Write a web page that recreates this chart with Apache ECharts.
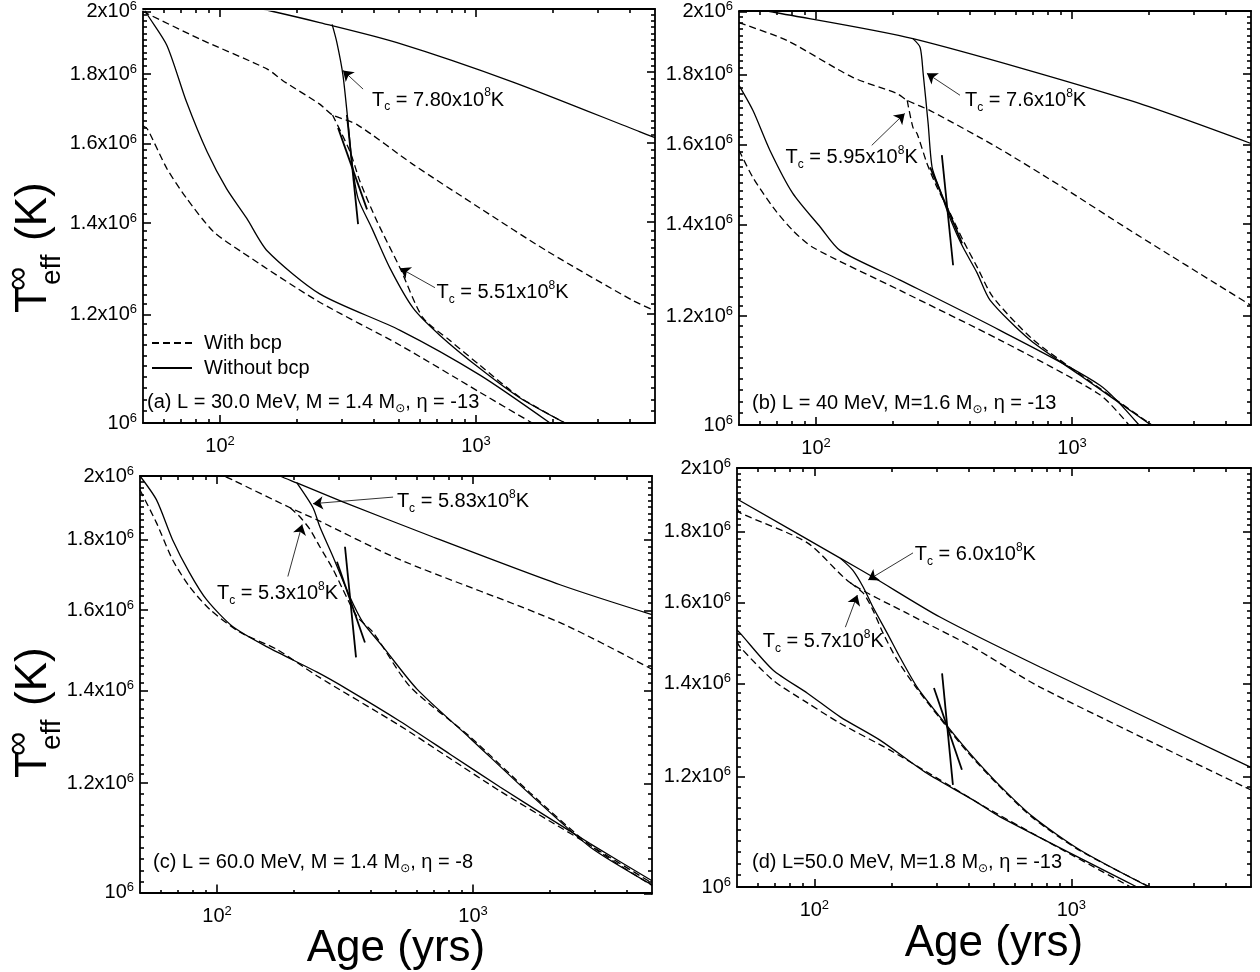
<!DOCTYPE html>
<html>
<head>
<meta charset="utf-8">
<script src="https://cdn.jsdelivr.net/npm/echarts@6/dist/echarts.min.js"></script>
<style>
  html, body { margin: 0; padding: 0; background: #fff; }
  #chart { width: 1260px; height: 972px; }
</style>
</head>
<body>
<div id="chart"></div>
<script>
const FONT = '"Liberation Sans", Arial, "DejaVu Sans", sans-serif';

// ticks
const xMajor = [100, 1000];
const xMinor = [60, 70, 80, 90, 200, 300, 400, 500, 600, 700, 800, 900, 2000, 3000, 4000];
const yMajor = [1.0e6, 1.2e6, 1.4e6, 1.6e6, 1.8e6, 2.0e6];
const yMajorText = ["10", "1.2x10", "1.4x10", "1.6x10", "1.8x10", "2x10"];
const yMinor = [
  1.02e6, 1.04e6, 1.06e6, 1.08e6, 1.10e6, 1.12e6, 1.14e6, 1.16e6, 1.18e6,
  1.22e6, 1.24e6, 1.26e6, 1.28e6, 1.30e6, 1.32e6, 1.34e6, 1.36e6, 1.38e6,
  1.42e6, 1.44e6, 1.46e6, 1.48e6, 1.50e6, 1.52e6, 1.54e6, 1.56e6, 1.58e6,
  1.62e6, 1.64e6, 1.66e6, 1.68e6, 1.70e6, 1.72e6, 1.74e6, 1.76e6, 1.78e6,
  1.82e6, 1.84e6, 1.86e6, 1.88e6, 1.90e6, 1.92e6, 1.94e6, 1.96e6, 1.98e6,
];

// (a) L = 30 MeV, M = 1.4
const aSolidTop = [[100, 2.04e6], [161, 2.0e6], [245, 1.963e6], [491, 1.898e6], [1394, 1.776e6], [4370, 1.633e6], [5000, 1.617e6]];
const aSolidTc = [[274, 1.957e6], [286, 1.898e6], [302, 1.797e6], [316, 1.661e6], [328, 1.548e6], [346, 1.46e6], [392, 1.388e6], [461, 1.298e6], [567, 1.214e6], [723, 1.159e6], [1036, 1.096e6], [1486, 1.043e6], [2226, 1.0e6]];
const aSolidLow = [[50, 2.02e6], [52, 1.99e6], [62, 1.889e6], [74, 1.717e6], [89, 1.579e6], [106, 1.484e6], [127, 1.412e6], [153, 1.336e6], [245, 1.243e6], [505, 1.169e6], [1036, 1.084e6], [1945, 1.0e6]];
const aDashTop = [[50, 2.0e6], [83.5, 1.909e6], [153, 1.815e6], [176, 1.78e6], [245, 1.711e6], [275, 1.68e6], [343, 1.653e6], [567, 1.546e6], [1036, 1.436e6], [1893, 1.336e6], [4100, 1.229e6], [5000, 1.208e6]];
const aDashTc = [[275, 1.68e6], [322, 1.579e6], [352, 1.502e6], [410, 1.405e6], [505, 1.298e6], [620, 1.194e6], [791, 1.149e6], [1036, 1.102e6], [1486, 1.044e6], [2226, 1.0e6]];
const aDashLow = [[50, 1.65e6], [52, 1.641e6], [62, 1.535e6], [74, 1.46e6], [94, 1.381e6], [120, 1.336e6], [239, 1.229e6], [505, 1.14e6], [1036, 1.053e6], [1656, 1.0e6]];
const aTangents = [[[313, 1.68e6], [346, 1.398e6]], [[289, 1.644e6], [375, 1.433e6]]];
const aArrows = [[[362, 1.755e6], [302, 1.811e6]], [[691, 1.256e6], [505, 1.298e6]]];
const aLabels = [[392, 1.723e6, "7.80"], [700, 1.246e6, "5.51"]];

// (b) L = 40 MeV, M = 1.6
const bSolidTop = [[50, 2.02e6], [66, 2.0e6], [239, 1.911e6], [1683, 1.723e6], [5000, 1.603e6]];
const bSolidTc = [[239, 1.911e6], [255, 1.883e6], [262, 1.803e6], [274, 1.658e6], [284, 1.54e6], [305, 1.482e6], [328, 1.426e6], [349, 1.386e6], [375, 1.347e6], [426, 1.29e6], [478, 1.233e6], [686, 1.153e6], [1074, 1.087e6], [2033, 1.0e6]];
const bSolidLow = [[50, 1.767e6], [56.7, 1.694e6], [66, 1.585e6], [81, 1.475e6], [104, 1.393e6], [124, 1.34e6], [213, 1.275e6], [523, 1.172e6], [1285, 1.069e6], [1826, 1.0e6]];
const bDashTop = [[50, 1.963e6], [77, 1.905e6], [139, 1.791e6], [207, 1.743e6], [227, 1.723e6], [279, 1.694e6], [509, 1.593e6], [922, 1.489e6], [1683, 1.386e6], [5000, 1.222e6]];
const bDashTc = [[227, 1.723e6], [239, 1.647e6], [248, 1.63e6], [271, 1.551e6], [297, 1.489e6], [334, 1.426e6], [375, 1.363e6], [426, 1.303e6], [491, 1.239e6], [700, 1.155e6], [1080, 1.088e6], [2050, 1.0e6]];
const bDashLow = [[50, 1.585e6], [56.7, 1.514e6], [68, 1.44e6], [81, 1.386e6], [97, 1.347e6], [213, 1.253e6], [523, 1.153e6], [1285, 1.052e6], [1668, 1.0e6]];
const bTangents = [[[310, 1.572e6], [343, 1.307e6]], [[279, 1.54e6], [372, 1.356e6]]];
const bArrows = [[[365, 1.738e6], [271, 1.803e6]], [[165, 1.598e6], [222, 1.686e6]]];
const bLabels = [[382, 1.723e6, "7.6"], [76, 1.566e6, "5.95"]];

// (c) L = 60 MeV, M = 1.4
const cSolidTop = [[150, 2.03e6], [176, 2.0e6], [205, 1.977e6], [310, 1.916e6], [697, 1.807e6], [2187, 1.669e6], [5000, 1.588e6]];
const cSolidTc = [[205, 1.977e6], [237, 1.897e6], [252, 1.838e6], [284, 1.748e6], [330, 1.636e6], [372, 1.567e6], [445, 1.505e6], [604, 1.403e6], [973, 1.293e6], [1668, 1.178e6], [2864, 1.079e6], [5000, 1.013e6]];
const cSolidLow = [[50, 2.0e6], [58, 1.922e6], [67, 1.799e6], [78, 1.703e6], [91, 1.628e6], [115, 1.557e6], [157, 1.505e6], [246, 1.443e6], [322, 1.403e6], [518, 1.33e6], [813, 1.259e6], [1274, 1.192e6], [1998, 1.131e6], [2864, 1.085e6], [5000, 1.02e6]];
const cDashTop = [[100, 2.02e6], [107, 2.0e6], [115, 1.987e6], [193, 1.897e6], [246, 1.859e6], [518, 1.74e6], [2187, 1.567e6], [5000, 1.45e6]];
const cDashTc = [[193, 1.897e6], [211, 1.868e6], [231, 1.829e6], [252, 1.778e6], [284, 1.712e6], [310, 1.656e6], [352, 1.583e6], [407, 1.542e6], [567, 1.409e6], [973, 1.296e6], [1668, 1.181e6], [2864, 1.082e6], [5000, 1.012e6]];
const cDashLow = [[50, 1.954e6], [58, 1.85e6], [67, 1.74e6], [78, 1.664e6], [94, 1.601e6], [123, 1.542e6], [171, 1.499e6], [246, 1.434e6], [518, 1.32e6], [813, 1.25e6], [1274, 1.184e6], [1998, 1.126e6], [2864, 1.082e6], [5000, 1.016e6]];
const cTangents = [[[316, 1.778e6], [349, 1.479e6]], [[294, 1.734e6], [378, 1.516e6]]];
const cArrows = [[[487, 1.931e6], [237, 1.91e6]], [[189, 1.692e6], [215, 1.845e6]]];
const cLabels = [[504, 1.916e6, "5.83"], [100, 1.644e6, "5.3"]];

// (d) L = 50 MeV, M = 1.8
const dSolidTop = [[50, 1.9e6], [126, 1.723e6], [169, 1.67e6], [308, 1.563e6], [755, 1.439e6], [5000, 1.219e6]];
const dSolidTc = [[126, 1.723e6], [141, 1.689e6], [155, 1.642e6], [169, 1.589e6], [192, 1.522e6], [215, 1.463e6], [251, 1.392e6], [308, 1.325e6], [393, 1.254e6], [514, 1.188e6], [709, 1.123e6], [1081, 1.063e6], [2005, 1.0e6]];
const dSolidLow = [[50, 1.53e6], [51.4, 1.522e6], [69, 1.432e6], [94, 1.378e6], [126, 1.325e6], [180, 1.275e6], [274, 1.207e6], [414, 1.155e6], [528, 1.123e6], [1800, 1.0e6]];
const dDashTop = [[50, 1.87e6], [51.4, 1.857e6], [94, 1.767e6], [138, 1.654e6], [229, 1.573e6], [414, 1.487e6], [755, 1.392e6], [5000, 1.174e6]];
const dDashTc = [[138, 1.654e6], [155, 1.626e6], [169, 1.581e6], [185, 1.522e6], [210, 1.456e6], [251, 1.388e6], [308, 1.322e6], [393, 1.251e6], [514, 1.186e6], [709, 1.121e6], [1081, 1.062e6], [2020, 1.0e6]];
const dDashLow = [[50, 1.5e6], [51.4, 1.487e6], [69, 1.408e6], [94, 1.356e6], [126, 1.311e6], [197, 1.254e6], [308, 1.194e6], [483, 1.136e6], [1700, 1.0e6]];
const dTangents = [[[314, 1.424e6], [346, 1.184e6]], [[292, 1.39e6], [375, 1.214e6]]];
const dArrows = [[[242, 1.738e6], [162, 1.662e6]], [[132, 1.537e6], [147, 1.621e6]]];
const dLabels = [[246, 1.732e6, "6.0"], [63, 1.5e6, "5.7"]];

const panelTexts = [
  "(a) L = 30.0 MeV, M = 1.4 M{sub|⊙}, η = -13",
  "(b) L = 40 MeV, M=1.6 M{sub|⊙}, η = -13",
  "(c) L = 60.0 MeV, M = 1.4 M{sub|⊙}, η = -8",
  "(d) L=50.0 MeV, M=1.8 M{sub|⊙}, η = -13",
];

const panels = [
  { solid: [aSolidTop, aSolidTc, aSolidLow], dash: [aDashTop, aDashTc, aDashLow], tangents: aTangents, arrows: aArrows, labels: aLabels },
  { solid: [bSolidTop, bSolidTc, bSolidLow], dash: [bDashTop, bDashTc, bDashLow], tangents: bTangents, arrows: bArrows, labels: bLabels },
  { solid: [cSolidTop, cSolidTc, cSolidLow], dash: [cDashTop, cDashTc, cDashLow], tangents: cTangents, arrows: cArrows, labels: cLabels },
  { solid: [dSolidTop, dSolidTc, dSolidLow], dash: [dDashTop, dDashTc, dDashLow], tangents: dTangents, arrows: dArrows, labels: dLabels },
];

// layout
const rects = [
  { left: 143, top: 9, width: 512, height: 414 },
  { left: 739, top: 11, width: 512, height: 414 },
  { left: 140, top: 476, width: 512, height: 418 },
  { left: 737, top: 468, width: 514, height: 419 },
];
const textPos = [[147, 390], [752, 391], [153, 850], [752, 850]];

const black = "#000";
const supRich = {
  b: { fontSize: 20, fontFamily: FONT, color: black, lineHeight: 23 },
  s: { fontSize: 13, fontFamily: FONT, color: black, verticalAlign: "top", lineHeight: 13 },
};
const xLabel = (v) => "{b|10}{s|" + Math.round(Math.log10(v)) + "}";
const yLabel = (v) => {
  const i = yMajor.findIndex((t) => Math.abs(t - v) < 1000);
  return "{b|" + yMajorText[i] + "}{s|6}";
};

// one x and one y axis per grid: [bottom/left major], [top/right major], [bottom/left minor], [top/right minor]
const layers = [
  { xPos: "bottom", yPos: "left", minor: false, labels: true },
  { xPos: "top", yPos: "right", minor: false, labels: false },
  { xPos: "bottom", yPos: "left", minor: true, labels: false },
  { xPos: "top", yPos: "right", minor: true, labels: false },
];

const grid = [];
const xAxis = [];
const yAxis = [];
rects.forEach((r, p) => {
  layers.forEach((ly) => {
    const g = grid.length;
    grid.push({ left: r.left, top: r.top, width: r.width, height: r.height, containLabel: false });
    const len = ly.minor ? 4 : 8;
    const lineOn = !ly.minor;
    xAxis.push({
      type: "log", logBase: 10, min: 50, max: 5000, gridIndex: g, position: ly.xPos,
      axisLine: { show: lineOn, onZero: false, lineStyle: { color: black, width: 1.8 } },
      splitLine: { show: false },
      axisTick: { show: true, inside: true, length: len, customValues: ly.minor ? xMinor : xMajor, lineStyle: { color: black, width: 1.6 } },
      axisLabel: ly.labels
        ? { show: true, customValues: xMajor, margin: 12, formatter: xLabel, rich: supRich }
        : { show: false },
      name: ly.labels && p >= 2 ? "Age (yrs)" : "",
      nameLocation: "middle",
      nameGap: p === 2 ? 28 : 34,
      nameTextStyle: { fontSize: 44, fontFamily: FONT, color: black },
    });
    yAxis.push({
      type: "log", logBase: 10, min: 1e6, max: 2e6, gridIndex: g, position: ly.yPos,
      axisLine: { show: lineOn, onZero: false, lineStyle: { color: black, width: 1.8 } },
      splitLine: { show: false },
      axisTick: { show: true, inside: true, length: len, customValues: ly.minor ? yMinor : yMajor, lineStyle: { color: black, width: 1.6 } },
      axisLabel: ly.labels
        ? { show: true, customValues: yMajor, margin: 6, formatter: yLabel, rich: supRich }
        : { show: false },
    });
  });
});

const series = [];
panels.forEach((pn, p) => {
  const ax = { xAxisIndex: 4 * p, yAxisIndex: 4 * p };
  const curve = (name, data, dashed) => ({
    type: "line", name, data, ...ax,
    symbol: "none", showSymbol: false, silent: true, smooth: 0.25,
    lineStyle: { color: black, width: 1.3, type: dashed ? [7, 4] : "solid" },
    itemStyle: { color: black },
  });
  pn.dash.forEach((d) => series.push(curve("With bcp", d, true)));
  pn.solid.forEach((d) => series.push(curve("Without bcp", d, false)));
  // crossing straight lines
  pn.tangents.forEach((d) => {
    series.push({
      type: "line", name: "tangent", data: d, ...ax, symbol: "none", silent: true,
      lineStyle: { color: black, width: 1.8 },
    });
  });
  // arrows
  series.push({
    type: "lines", coordinateSystem: "cartesian2d", ...ax, silent: true,
    symbol: ["none", "arrow"], symbolSize: 10,
    lineStyle: { color: black, width: 0.8, opacity: 1 },
    data: pn.arrows.map((c) => ({ coords: c })),
  });
  // Tc labels
  series.push({
    type: "scatter", ...ax, symbolSize: 0, silent: true,
    itemStyle: { opacity: 1 },
    data: pn.labels.map((l) => ({ value: [l[0], l[1]], name: l[2] })),
    label: {
      show: true, position: "right", distance: 0,
      formatter: (prm) => "{m|T}{sub|c}{m| = " + prm.name + "x10}{sup|8}{m|K}",
      rich: {
        m: { fontSize: 20, fontFamily: FONT, color: black, lineHeight: 26 },
        sub: { fontSize: 12, fontFamily: FONT, color: black, verticalAlign: "bottom", lineHeight: 12 },
        sup: { fontSize: 12, fontFamily: FONT, color: black, verticalAlign: "top", lineHeight: 12 },
      },
    },
  });
});

const title = panelTexts.map((t, i) => ({
  text: t, left: textPos[i][0], top: textPos[i][1], padding: 0,
  textStyle: {
    fontSize: 20, fontWeight: "normal", fontFamily: FONT, color: black, lineHeight: 25,
    rich: { sub: { fontSize: 12, fontFamily: "DejaVu Sans", color: black, verticalAlign: "bottom", lineHeight: 12 } },
  },
}));

// y axis names, rotated
const yName = (x, y) => ({
  type: "group", x, y, rotation: Math.PI / 2, silent: true,
  children: [
    { type: "text", x: 0, y: 0, style: { text: "T", font: "44px " + FONT, fill: black, textVerticalAlign: "bottom", verticalAlign: "bottom" } },
    { type: "text", x: 22, y: -20, style: { text: "∞", font: "34px " + FONT, fill: black, textVerticalAlign: "bottom", verticalAlign: "bottom" } },
    { type: "text", x: 28, y: 10, style: { text: "eff", font: "28px " + FONT, fill: black, textVerticalAlign: "bottom", verticalAlign: "bottom" } },
    { type: "text", x: 72, y: 0, style: { text: "(K)", font: "44px " + FONT, fill: black, textVerticalAlign: "bottom", verticalAlign: "bottom" } },
  ],
});

const chart = echarts.init(document.getElementById("chart"));
chart.setOption({
  animation: false,
  backgroundColor: "#fff",
  title,
  legend: {
    data: ["With bcp", "Without bcp"], orient: "vertical", left: 151, top: 333,
    itemWidth: 40, itemHeight: 12, itemGap: 5, selectedMode: false, padding: 0,
    itemStyle: { opacity: 0 },
    textStyle: { fontSize: 20, fontFamily: FONT, color: black, padding: [0, 0, 0, 7] },
  },
  grid, xAxis, yAxis, series,
  graphic: [yName(56, 313), yName(56, 778)],
});
</script>
</body>
</html>
